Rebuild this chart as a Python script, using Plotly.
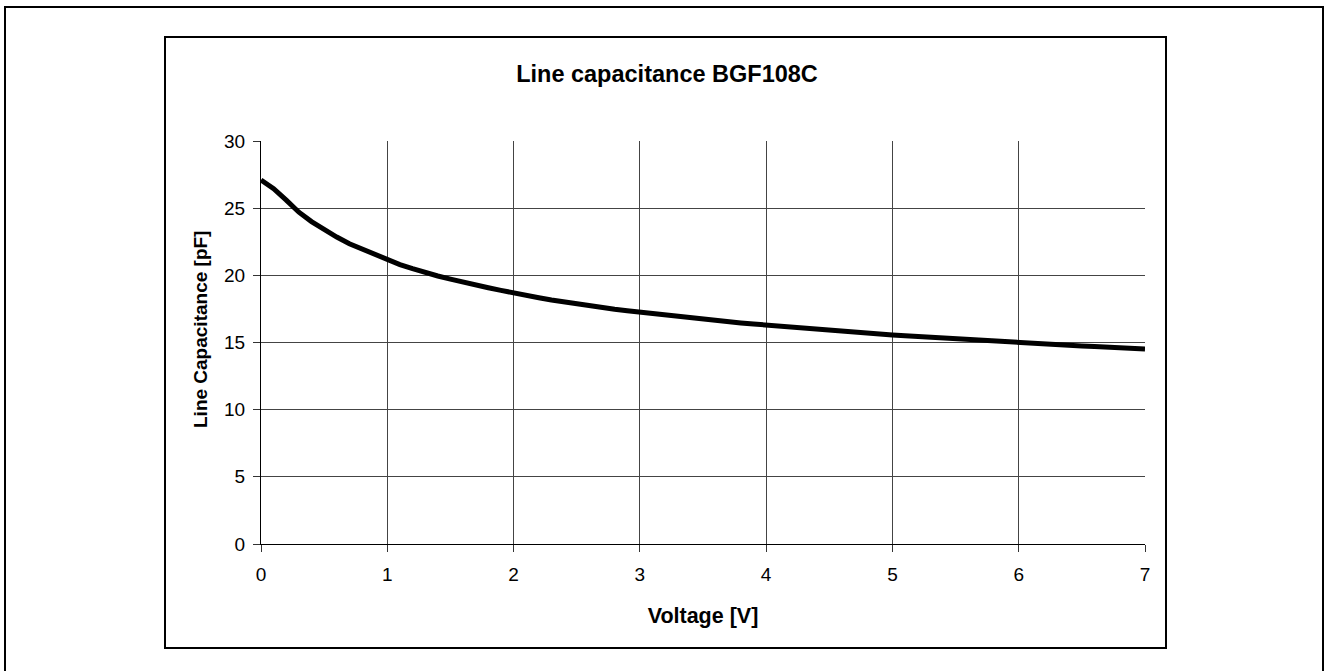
import plotly.graph_objects as go

voltage = [0.0, 0.1, 0.2, 0.3, 0.4, 0.5, 0.6, 0.7, 0.8, 0.9,
           1.0, 1.1, 1.2, 1.3, 1.4, 1.5, 1.6, 1.7, 1.8, 1.9,
           2.0, 2.1, 2.2, 2.3, 2.4, 2.5, 2.6, 2.7, 2.8, 2.9,
           3.0, 3.1, 3.2, 3.3, 3.4, 3.5, 3.6, 3.7, 3.8, 3.9,
           4.0, 4.1, 4.2, 4.3, 4.4, 4.5, 4.6, 4.7, 4.8, 4.9,
           5.0, 5.1, 5.2, 5.3, 5.4, 5.5, 5.6, 5.7, 5.8, 5.9,
           6.0, 6.1, 6.2, 6.3, 6.4, 6.5, 6.6, 6.7, 6.8, 6.9, 7.0]
capacitance = [27.1, 26.45, 25.6, 24.7, 24.0, 23.4, 22.85, 22.35, 21.95, 21.55,
               21.15, 20.8, 20.5, 20.2, 19.95, 19.72, 19.48, 19.25, 19.08, 18.88,
               18.67, 18.5, 18.33, 18.16, 18.01, 17.86, 17.73, 17.6, 17.47, 17.36,
               17.25, 17.15, 17.05, 16.94, 16.84, 16.74, 16.64, 16.55, 16.46, 16.38,
               16.3, 16.21, 16.13, 16.05, 15.97, 15.9, 15.83, 15.76, 15.69, 15.62,
               15.56, 15.5, 15.44, 15.38, 15.32, 15.27, 15.22, 15.17, 15.11, 15.05,
               15.0, 14.95, 14.9, 14.84, 14.78, 14.74, 14.7, 14.66, 14.62, 14.58, 14.52]

x_ticks = [0, 1, 2, 3, 4, 5, 6, 7]
y_ticks = [0, 5, 10, 15, 20, 25, 30]

title_text = "Line capacitance BGF108C"
x_title = "Voltage [V]"
y_title = "Line Capacitance [pF]"

W, H = 1330, 671
L, R, T, B = 261, 1145, 141, 544


def px(xp):
    return (xp - L) / (R - L)


def py(yp):
    return (B - yp) / (B - T)


FONT = "Liberation Sans, Arial, sans-serif"

fig = go.Figure()
fig.add_trace(go.Scatter(
    x=voltage, y=capacitance, mode="lines",
    line=dict(color="black", width=5),
    showlegend=False, hoverinfo="skip",
))

fig.update_layout(
    width=W, height=H,
    margin=dict(l=L, r=W - R, t=T, b=H - B),
    paper_bgcolor="white", plot_bgcolor="white",
    font=dict(family=FONT, color="black", size=19),
    title=dict(text="<b>" + title_text + "</b>", x=px(667), xref="paper",
               xanchor="center", y=1 - 74 / H, yanchor="middle",
               font=dict(size=23.5, family=FONT, color="black")),
    showlegend=False,
)

fig.update_xaxes(
    range=[0, 7], tickvals=x_ticks, ticktext=[str(v) for v in x_ticks],
    showgrid=True, gridcolor="#444444", gridwidth=1,
    showline=True, linecolor="black", linewidth=1,
    ticks="outside", ticklen=7, tickcolor="#333333",
    zeroline=False, mirror=False, ticklabelstandoff=6,
    tickfont=dict(size=19, family=FONT, color="black"),
    title=dict(text="<b>" + x_title + "</b>", font=dict(size=21.5, family=FONT), standoff=24),
)
fig.update_yaxes(
    range=[0, 30], tickvals=y_ticks, ticktext=[str(v) for v in y_ticks],
    showgrid=True, gridcolor="#444444", gridwidth=1,
    showline=True, linecolor="black", linewidth=1,
    ticks="outside", ticklen=7, tickcolor="#333333",
    zeroline=False, mirror=False, ticklabelstandoff=4,
    tickfont=dict(size=19, family=FONT, color="black"),
)

fig.add_annotation(
    text="<b>" + y_title + "</b>", xref="paper", yref="paper",
    x=px(200), y=py(330), xanchor="center", yanchor="middle",
    textangle=-90, showarrow=False,
    font=dict(size=19, family=FONT, color="black"),
)

# inner chart box and outer frame
fig.add_shape(type="rect", xref="paper", yref="paper",
              x0=px(165), x1=px(1166), y0=py(648), y1=py(37),
              line=dict(color="black", width=2), fillcolor="rgba(0,0,0,0)", layer="below")
fig.add_shape(type="rect", xref="paper", yref="paper",
              x0=px(5), x1=px(1323), y0=py(690), y1=py(7),
              line=dict(color="black", width=2), fillcolor="rgba(0,0,0,0)", layer="below")

fig.write_html("out.html", config={"displayModeBar": False},
               post_script="document.body.style.margin='0';")
